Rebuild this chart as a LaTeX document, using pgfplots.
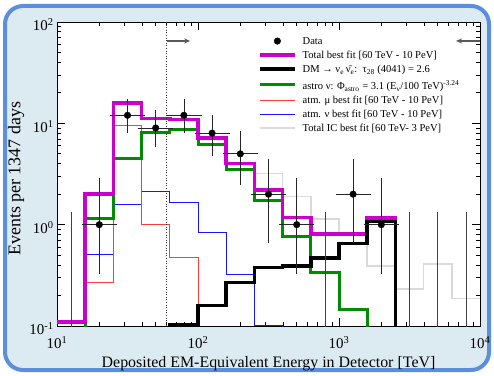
\documentclass[border=0pt]{standalone}
\usepackage{pgfplots}
\pgfplotsset{compat=1.18}
\usepackage{pgfplotstable}
\usepackage{fontspec}
\setmainfont{Liberation Serif}
\usetikzlibrary{arrows.meta}
\definecolor{framebg}{RGB}{220,235,242}
\definecolor{frameblue}{RGB}{91,142,219}
\definecolor{tmag}{RGB}{204,0,204}
\definecolor{tgreen}{RGB}{0,140,0}
\definecolor{tred}{RGB}{255,60,60}
\definecolor{tblue}{RGB}{20,20,255}
\definecolor{tgray}{RGB}{218,218,218}
\newcommand{\st}[2]{\hspace*{4bp}\rule[-#2bp]{0pt}{\dimexpr #1bp+#2bp\relax}}

\pgfplotstableread{
x y exm exp eym eyp
19.953 1 4.104 5.166 0.65 1.66
31.623 12 6.504 8.188 3.3 4.0
50.119 9 10.308 12.977 2.7 3.6
79.433 12 16.337 20.567 3.4 4.0
125.89 8 25.89 32.60 2.8 3.2
199.53 5 41.04 51.66 2.34 2.7
316.23 2 65.04 81.88 1.29 2.1
501.19 1 103.08 129.77 0.65 1.66
1258.9 2 258.9 325.97 1.29 2.1
1995.3 1 410.4 516.6 0.65 1.66
}\datatab

\pgfplotstableread{
x y eyp
12.589 0.05 1.18
794.33 0.05 1.18
3162.3 0.05 1.18
5011.9 0.05 1.18
7943.3 0.05 1.18
}\zerotab

\begin{document}
\begin{tikzpicture}[x=1bp,y=1bp]
\useasboundingbox (0,0) rectangle (494,375);
\draw[line width=4bp, draw=frameblue, fill=framebg, rounded corners=18bp] (5,5) rectangle (489,369);
\begin{axis}[
 at={(57bp,49bp)}, anchor=south west, scale only axis, width=423bp, height=304bp,
 xmode=log, ymode=log, xmin=10, xmax=10000, ymin=0.1, ymax=100,
 axis background/.style={fill=white},
 axis line style={line width=0.9bp},
 tick align=inside, major tick length=8bp, minor tick length=4bp,
 every tick/.style={black, line width=0.7bp},
 xtick={10,100,1000,10000},
 xticklabels={10\textsuperscript{1},10\textsuperscript{2},10\textsuperscript{3},10\textsuperscript{4}},
 ytick={0.1,1,10,100},
 yticklabels={\raisebox{-6bp}{10\textsuperscript{-1}},10\textsuperscript{0},10\textsuperscript{1},10\textsuperscript{2}},
 tick label style={font=\fontsize{15}{18}\selectfont},
 xticklabel style={yshift=-7bp},
 yticklabel style={yshift=-3bp},
 xlabel={Deposited EM-Equivalent Energy in Detector [TeV]},
 ylabel={Events per 1347 days},
 every axis x label/.style={at={(axis description cs:0.5,-0.135)}, anchor=base, font=\fontsize{16}{19}\selectfont},
 every axis y label/.style={at={(axis description cs:-0.097,0.484)}, anchor=center, rotate=90, font=\fontsize{18}{22}\selectfont},
 legend style={at={(0.475,0.961)}, anchor=north west, draw=none, fill=none, font=\fontsize{10.6}{12.5}\selectfont, row sep=0pt, inner sep=0pt, cells={anchor=west}},
 legend image code/.code={\draw[mark repeat=2,mark phase=2,#1] plot coordinates {(0bp,0bp) (17.5bp,0bp) (35bp,0bp)};},
]
\addlegendimage{only marks, mark=*, mark size=3.3bp, black}
\addlegendentry{\st{8.5}{3.2}Data}
\addlegendimage{tmag, line width=3.5bp}
\addlegendentry{\st{8.5}{4.9}Total best fit [60 TeV - 10 PeV]}
\addlegendimage{black, line width=3.5bp}
\addlegendentry{\st{8.5}{8.5}DM → ν\textsubscript{e}\,\={ν}\textsubscript{e}:\ \ τ\textsubscript{28} (4041) = 2.6}
\addlegendimage{tgreen, line width=3bp}
\addlegendentry{\st{11.6}{8.5}astro ν: Φ\textsubscript{astro} = 3.1 (E\textsubscript{ν}/100 TeV)\textsuperscript{-3.24}}
\addlegendimage{tred, line width=0.9bp}
\addlegendentry{\st{8.5}{2.9}atm. μ best fit [60 TeV - 10 PeV]}
\addlegendimage{tblue, line width=0.9bp}
\addlegendentry{\st{8.5}{6.7}atm. ν best fit [60 TeV - 10 PeV]}
\addlegendimage{tgray, line width=1.5bp}
\addlegendentry{\st{8.5}{3.2}Total IC best fit [60 TeV- 3 PeV]}

% Total IC best fit (gray)
\addplot[const plot, tgray, line width=1.5bp, forget plot] coordinates {(10,0.11) (15.849,2.0) (25.119,15.8) (39.811,11.2) (63.096,10.9) (100,7.2) (158.49,4.0) (251.19,3.2) (398.11,1.9) (630.96,1.14) (1000,0.82) (1584.9,0.39) (2511.9,0.233) (3981.1,0.41) (6309.6,0.187) (10000,0.187)};
% atm nu (blue)
\addplot[const plot, tblue, line width=0.9bp, forget plot] coordinates {(10,0.01) (15.849,0.51) (25.119,1.59) (39.811,2.15) (63.096,1.65) (100,0.83) (158.49,0.32) (251.19,0.101) (398.11,0.01)};
% atm mu (red)
\addplot[const plot, tred, line width=0.9bp, forget plot] coordinates {(10,0.01) (15.849,0.27) (25.119,9.6) (39.811,1.01) (63.096,0.48) (100,0.01)};
% astro (green)
\addplot[const plot, tgreen, line width=3bp, forget plot] coordinates {(10,0.01) (15.849,1.16) (25.119,4.5) (39.811,8.1) (63.096,8.6) (100,6.2) (158.49,3.47) (251.19,1.72) (398.11,0.76) (630.96,0.34) (1000,0.147) (1584.9,0.01)};
% total (magenta)
\addplot[const plot, tmag, line width=3.5bp, forget plot] coordinates {(10,0.11) (15.849,2.0) (25.119,15.8) (39.811,11.2) (63.096,10.9) (100,7.2) (158.49,4.0) (251.19,2.2) (398.11,1.18) (630.96,0.81) (1000,0.81) (1584.9,1.16) (2511.9,0.01)};
% DM (black)
\addplot[const plot, black, line width=3.5bp, forget plot] coordinates {(39.811,0.01) (63.096,0.102) (100,0.16) (158.49,0.27) (251.19,0.38) (398.11,0.39) (630.96,0.47) (1000,0.65) (1584.9,1.07) (2511.9,0.01)};
% 60 TeV line
\addplot[black!80, dotted, line width=0.6bp, forget plot] coordinates {(60,0.1) (60,100)};
% zero-event bins
\addplot[only marks, mark=none, forget plot, error bars/.cd, y dir=plus, y explicit, error bar style={line width=0.8bp, black!75}, error mark options={black!75, mark size=3.5bp, line width=0.8bp}] table[x=x, y=y, y error plus=eyp] {\zerotab};
% data
\addplot[only marks, mark=*, mark size=3.3bp, black, forget plot, error bars/.cd, x dir=both, x explicit, y dir=both, y explicit, error bar style={line width=0.8bp, black!85}, error mark options={black!85, mark size=3.5bp, line width=0.8bp}] table[x=x, y=y, x error plus=exp, x error minus=exm, y error plus=eyp, y error minus=eym] {\datatab};
% arrows
\draw[-{Stealth[length=6bp,width=5bp]}, line width=1.3bp, black!65] (axis cs:60,65) -- (axis cs:88,65);
\draw[-{Stealth[length=6bp,width=5bp]}, line width=1.3bp, black!65] (axis cs:10000,65) -- (axis cs:6760,65);
\end{axis}
\end{tikzpicture}
\end{document}
